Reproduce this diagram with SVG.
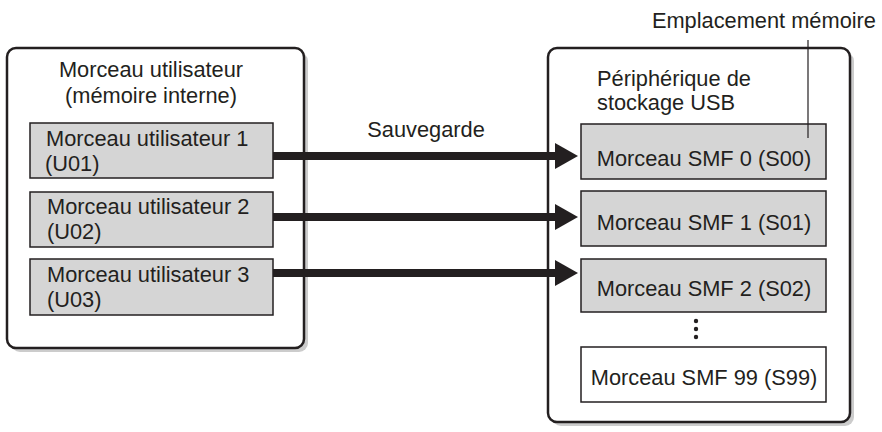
<svg xmlns="http://www.w3.org/2000/svg" width="882" height="432" viewBox="0 0 882 432">
<defs>
<style>
text{font-family:"Liberation Sans",Arial,sans-serif;font-size:21.8px;fill:#231f20}
.outer{fill:#fff;stroke:#231f20;stroke-width:2.5}
.shadow{fill:#cccccc}
.item{fill:#d5d5d5;stroke:#231f20;stroke-width:1.5}
.empty{fill:#fff;stroke:#231f20;stroke-width:1.5}
.conn{stroke:#231f20;stroke-width:8;fill:none}
.head{fill:#231f20}
</style>
</defs>
<rect width="882" height="432" fill="#fff"/>
<g id="memoire-interne">
<rect class="shadow" x="11" y="52" width="297" height="300" rx="9"/>
<rect class="outer" x="7" y="48" width="297" height="300" rx="9"/>
<text x="151" y="77" text-anchor="middle">Morceau utilisateur</text>
<text x="151" y="103" text-anchor="middle">(mémoire interne)</text>
</g>
<g id="u01">
<rect class="item" x="30" y="123" width="243" height="55"/>
<text x="46" y="145.5">Morceau utilisateur 1</text>
<text x="45" y="170.5">(U01)</text>
</g>
<g id="u02">
<rect class="item" x="30" y="192" width="243" height="55"/>
<text x="47" y="214">Morceau utilisateur 2</text>
<text x="47" y="239">(U02)</text>
</g>
<g id="u03">
<rect class="item" x="30" y="259" width="243" height="56"/>
<text x="47" y="281.5">Morceau utilisateur 3</text>
<text x="47" y="306.5">(U03)</text>
</g>
<g id="usb">
<rect class="shadow" x="552" y="52" width="302" height="374" rx="9"/>
<rect class="outer" x="548" y="48" width="302" height="374" rx="9"/>
<text x="597" y="86">Périphérique de</text>
<text x="597" y="110">stockage USB</text>
</g>
<g id="s00">
<rect class="item" x="581" y="124" width="245" height="55"/>
<text x="704" y="166" text-anchor="middle">Morceau SMF 0 (S00)</text>
</g>
<g id="s01">
<rect class="item" x="581" y="191" width="245" height="55"/>
<text x="704" y="230" text-anchor="middle">Morceau SMF 1 (S01)</text>
</g>
<g id="s02">
<rect class="item" x="581" y="259" width="245" height="53"/>
<text x="704" y="296" text-anchor="middle">Morceau SMF 2 (S02)</text>
</g>
<g id="ellipsis">
<circle cx="696" cy="321" r="2.2" fill="#231f20"/>
<circle cx="696" cy="329" r="2.2" fill="#231f20"/>
<circle cx="696" cy="337" r="2.2" fill="#231f20"/>
</g>
<g id="s99">
<rect class="empty" x="581" y="347" width="245" height="55"/>
<text x="704" y="385" text-anchor="middle">Morceau SMF 99 (S99)</text>
</g>
<g id="emplacement">
<text x="876" y="28" text-anchor="end">Emplacement mémoire</text>
<line x1="808" y1="40" x2="808" y2="138" stroke="#231f20" stroke-width="1.2"/>
</g>
<g id="connectors">
<text x="426" y="137" text-anchor="middle">Sauvegarde</text>
<line class="conn" x1="273" y1="156" x2="558" y2="156"/>
<polygon class="head" points="555,143 578,156 555,169"/>
<line class="conn" x1="273" y1="217" x2="558" y2="217"/>
<polygon class="head" points="555,204 578,217 555,230"/>
<line class="conn" x1="273" y1="273" x2="558" y2="273"/>
<polygon class="head" points="555,260 578,273 555,286"/>
</g>
</svg>
